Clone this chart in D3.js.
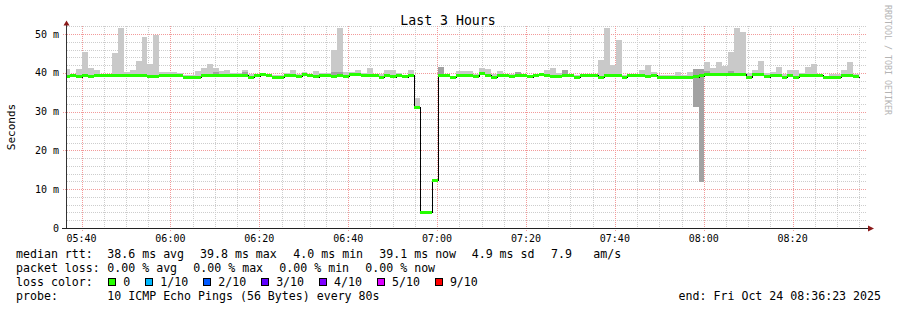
<!DOCTYPE html>
<html><head><meta charset="utf-8">
<script src="https://cdn.jsdelivr.net/npm/d3@7"></script>
<style>
body{margin:0;background:#fff}
text{font-family:"DejaVu Sans Mono",monospace}
</style>
</head><body>
<svg id="c" width="897" height="310"></svg>
<script>
// ---------------- data ----------------
const title = "Last 3 Hours";
const yAxisLabel = "Seconds";
const watermark = "RRDTOOL / TOBI OETIKER";
const stepSeconds = 80;
// first 80 s step starts 05:36:10, graph window 05:36:44 – 08:36:44 (UTC labels)
const median = [
 39.1,39.3,39.0,39.3,39.1,39.3,39.3,39.2,39.2,39.4,
 39.4,39.4,39.4,39.3,39.1,39.1,39.3,39.3,39.3,39.2,
 38.9,38.9,38.9,39.2,39.4,39.4,39.2,39.4,39.4,39.4,
 39.4,38.9,39.2,39.6,39.3,38.9,38.9,39.2,39.4,39.1,
 39.5,39.2,39.0,39.4,39.4,39.1,39.4,39.1,39.6,39.6,
 39.4,39.4,39.2,38.9,39.3,39.0,39.3,39.0,39.4,31.1,
 4.0,4.0,12.3,39.4,39.2,38.9,39.4,39.4,39.4,39.1,
 39.8,39.4,38.8,39.2,39.3,39.1,39.3,39.3,39.0,39.4,
 39.6,39.3,39.1,39.1,39.2,39.2,38.9,39.2,39.4,39.4,
 38.9,39.2,39.2,39.2,38.9,39.2,39.4,39.4,39.1,39.4,
 38.9,38.9,38.9,38.9,38.9,38.9,39.0,39.3,39.6,39.6,
 39.6,39.6,39.6,39.6,39.6,38.9,39.5,39.5,39.0,39.4,
 39.2,38.9,39.2,38.9,39.4,39.4,39.4,39.4,38.8,38.8,
 38.8,39.2,39.4,39.0
];
const smokeMax = [
 41.0,39.8,41.0,45.3,41.3,40.7,39.8,39.8,45.1,51.6,
 40.3,40.6,43.0,49.2,42.3,49.7,40.2,40.2,40.3,40.0,
 39.5,39.5,40.5,41.3,42.3,41.3,40.4,40.6,39.9,39.9,
 40.8,39.6,39.8,40.0,39.8,39.5,39.5,39.9,40.6,39.8,
 40.3,39.8,40.4,39.9,39.9,45.9,51.5,40.2,40.2,40.8,
 40.0,41.3,39.8,39.6,40.6,40.6,40.0,39.5,40.8,33.5,
 4.3,4.3,12.6,41.5,39.7,39.3,40.4,40.4,40.4,39.6,
 41.3,41.1,39.6,40.4,39.8,39.6,40.2,39.8,39.4,39.8,
 40.0,40.8,41.3,40.0,40.8,39.6,39.5,39.7,39.7,39.8,
 43.4,51.6,42.0,48.5,39.5,39.8,39.8,40.6,42.0,40.3,
 39.4,39.4,39.5,40.1,39.5,40.1,41.0,41.0,42.7,41.3,
 42.8,41.8,45.4,51.5,50.6,39.9,40.8,43.0,39.9,40.3,
 41.5,39.8,40.6,40.6,39.9,41.5,42.3,39.8,39.3,39.8,
 39.8,40.6,42.8,39.6
];
// inner (darker) smoke where visible: step index, low, high
const darkSteps = [25,30,45,46,63,76,84,106,107,108,112];
const darkLow   = [39.4,39.4,39.1,39.4,39.4,39.3,39.2,31.3,11.9,39.6,39.6];
const darkHigh  = [40.3,40.3,40.3,40.3,41.5,40.2,40.8,41.0,41.0,40.5,40.4];

const yTickValues = [0,10,20,30,40,50];
const yTickLabels = ["0","10 m","20 m","30 m","40 m","50 m"];

const statLabels = ["median rtt:","packet loss:","loss color:","probe:"];
const rttStats = ["38.6 ms avg","39.8 ms max","4.0 ms min","39.1 ms now","4.9 ms sd","7.9","am/s"];
const lossStats = ["0.00 % avg","0.00 % max","0.00 % min","0.00 % now"];
const lossLabels = ["0","1/10","2/10","3/10","4/10","5/10","9/10"];
const lossColors = ["#26ff00","#00b8ff","#0059ff","#5e00ff","#7e00ff","#dd00ff","#ff0000"];
const probeText = "10 ICMP Echo Pings (56 Bytes) every 80s";
const endText = "end: Fri Oct 24 08:36:23 2025";

// ---------------- drawing ----------------
const svg = d3.select("#c");
const MS = 1000;
const firstStep = Date.UTC(2025,9,24,5,36,10);
const tStart = new Date(Date.UTC(2025,9,24,5,36,44));
const tEnd = new Date(Date.UTC(2025,9,24,8,36,44));
const L=67,R=867,T=26,B=228;
const x = d3.scaleUtc().domain([tStart,tEnd]).range([L,R]);
const y = d3.scaleLinear().domain([0,52.06]).range([B,T]);
const st = i => new Date(firstStep + i*stepSeconds*MS);
const fmt = d3.utcFormat("%H:%M");
const px = v => Math.round(v)+0.5;

svg.append("rect").attr("width",897).attr("height",310).attr("fill","#fff");

// grid
const g = svg.append("g").attr("stroke-width",1).attr("stroke-dasharray","1,1").attr("fill","none");
const minorY = d3.range(0,52.06,2).filter(v=>v%10!==0);
g.selectAll(".hy").data(minorY).join("line")
 .attr("x1",L).attr("x2",R).attr("y1",d=>px(y(d))).attr("y2",d=>px(y(d))).attr("stroke","#cdcdcd");
const minorX = x.ticks(d3.utcMinute.every(5)).filter(d=>d.getUTCMinutes()%20!==0);
g.selectAll(".vx").data(minorX).join("line")
 .attr("y1",T).attr("y2",B+2).attr("x1",d=>px(x(d))).attr("x2",d=>px(x(d))).attr("stroke","#cdcdcd");
g.selectAll(".My").data(yTickValues.filter(v=>v>0)).join("line")
 .attr("x1",L-4).attr("x2",R).attr("y1",d=>px(y(d))).attr("y2",d=>px(y(d))).attr("stroke","#f29a9a");
const majorX = x.ticks(d3.utcMinute.every(20));
g.selectAll(".Mx").data(majorX).join("line")
 .attr("y1",T).attr("y2",B+4).attr("x1",d=>px(x(d))).attr("x2",d=>px(x(d))).attr("stroke","#f29a9a");

// clip
svg.append("clipPath").attr("id","pc").append("rect").attr("x",L).attr("y",T-6).attr("width",R-L).attr("height",B-T+6);
const plot = svg.append("g").attr("clip-path","url(#pc)");

const idx = d3.range(median.length);
// outer smoke
plot.append("g").attr("shape-rendering","crispEdges").selectAll("rect")
 .data(idx.filter(i=>smokeMax[i]>median[i])).join("rect")
 .attr("x",i=>x(st(i))).attr("width",i=>x(st(i+1))-x(st(i)))
 .attr("y",i=>y(smokeMax[i])).attr("height",i=>y(median[i])-y(smokeMax[i]))
 .attr("fill","#c9c9c9");
// inner smoke
plot.append("g").attr("shape-rendering","crispEdges").selectAll("rect")
 .data(d3.range(darkSteps.length)).join("rect")
 .attr("x",k=>x(st(darkSteps[k]))).attr("width",k=>x(st(darkSteps[k]+1))-x(st(darkSteps[k])))
 .attr("y",k=>y(darkHigh[k])).attr("height",k=>y(darkLow[k])-y(darkHigh[k]))
 .attr("fill","#a2a2a2");
// median line (dark step line), pixel-snapped
const pts = idx.map(i=>[px(x(st(i))),px(y(median[i]))]);
pts.push([px(x(st(median.length))),px(y(median[median.length-1]))]);
plot.append("path").attr("d",d3.line().curve(d3.curveStepAfter)(pts))
 .attr("fill","none").attr("stroke","#000").attr("stroke-width",1).attr("shape-rendering","crispEdges");
// loss-coloured median band
plot.append("g").attr("shape-rendering","crispEdges").selectAll("rect")
 .data(idx).join("rect")
 .attr("x",i=>x(st(i))).attr("width",i=>x(st(i+1))-x(st(i)))
 .attr("y",i=>y(median[i])-1.5).attr("height",3)
 .attr("fill",lossColors[0]);

// axes
svg.append("line").attr("x1",L-0.5).attr("x2",L-0.5).attr("y1",B+0.5).attr("y2",T-2).attr("stroke","#333");
svg.append("line").attr("x1",L-5).attr("x2",R+2).attr("y1",B+0.5).attr("y2",B+0.5).attr("stroke","#222");
svg.append("path").attr("d",`M${L-3.5},${T-0.5}L${L+2.5},${T-0.5}L${L-0.5},${T-5.5}Z`).attr("fill","#8b1a1a");
svg.append("path").attr("d",`M${R+1},${B-2.5}L${R+1},${B+3.5}L${R+7},${B+0.5}Z`).attr("fill","#8b1a1a");

// y labels
svg.selectAll(".yl").data(yTickValues).join("text")
 .attr("x",59).attr("y",d=>y(d)+3.6).attr("text-anchor","end")
 .attr("font-size","10px").attr("fill","#000").text((d,i)=>yTickLabels[i]);
// x labels
svg.selectAll(".xl").data(majorX).join("text")
 .attr("x",d=>x(d)).attr("y",241.5).attr("text-anchor","middle")
 .attr("font-size","10px").attr("fill","#000").text(d=>fmt(d));

// title, axis label, watermark
svg.append("text").attr("x",448).attr("y",24.5).attr("text-anchor","middle")
 .attr("font-size","13.2px").attr("fill","#000").text(title);
svg.append("text").attr("transform","translate(14.5,127) rotate(-90)").attr("text-anchor","middle")
 .attr("font-size","11px").attr("fill","#000").text(yAxisLabel);
svg.append("text").attr("transform","translate(884.5,5) rotate(90)")
 .attr("font-size","8.3px").attr("fill","#b4b4b4").text(watermark);

// legend
const fs = "11.6px";
const rows = [258,272,286,300];
statLabels.forEach((s,i)=>svg.append("text").attr("x",16).attr("y",rows[i]).attr("font-size",fs).text(s));
const rttX = [107.3,200,293.3,379.3,471.7,551,593.3];
rttStats.forEach((s,i)=>svg.append("text").attr("x",rttX[i]).attr("y",rows[0]).attr("font-size",fs).text(s));
const lossX = [107.3,193.3,279.3,365.3];
lossStats.forEach((s,i)=>svg.append("text").attr("x",lossX[i]).attr("y",rows[1]).attr("font-size",fs).text(s));
let cur = 108.3;
lossLabels.forEach((s,i)=>{
  svg.append("rect").attr("x",Math.round(cur)+0.5).attr("y",278.5).attr("width",7).attr("height",7)
    .attr("fill",lossColors[i]).attr("stroke","#000").attr("stroke-width",1);
  const t = svg.append("text").attr("x",cur+15).attr("y",rows[2]).attr("font-size",fs).text(s);
  cur = cur + 15 + t.node().getComputedTextLength() + 15;
});
svg.append("text").attr("x",107.3).attr("y",rows[3]).attr("font-size",fs).text(probeText);
svg.append("text").attr("x",881).attr("y",rows[3]).attr("text-anchor","end").attr("font-size",fs).text(endText);
</script>
</body></html>
